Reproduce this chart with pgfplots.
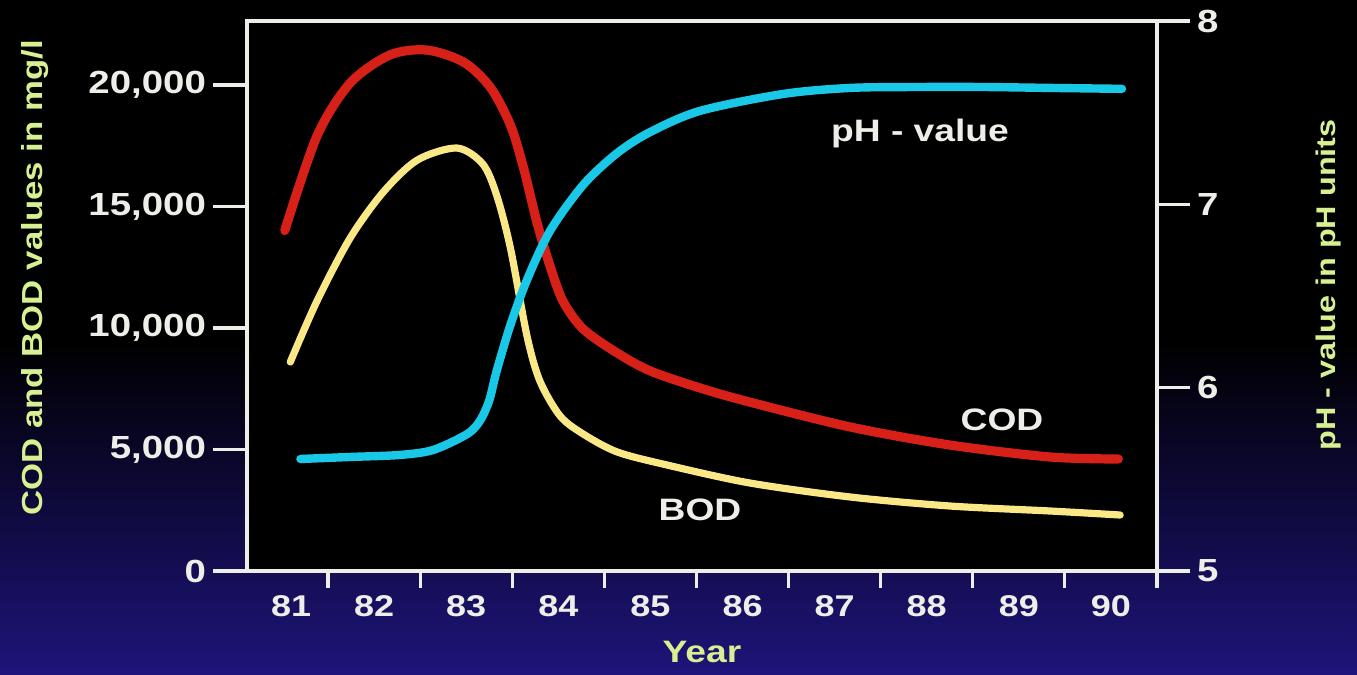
\documentclass[border=0pt]{standalone}
\usepackage{fontspec}
\setmainfont{Liberation Sans}[FakeStretch=1.2]
\usepackage{pgfplots}
\pgfplotsset{compat=1.18}
\definecolor{codred}{RGB}{215,32,24}
\definecolor{bodyel}{RGB}{250,232,135}
\definecolor{phcyan}{RGB}{25,200,230}
\definecolor{labgreen}{RGB}{215,240,145}
\definecolor{tickwhite}{RGB}{238,238,232}
\definecolor{navyb}{RGB}{30,20,122}
\pgfplotstableread{
x y
81.03 14011
81.38 17900
81.74 20081
82.17 21233
82.57 21439
82.97 20945
83.26 19917
83.48 18353
83.62 16625
83.77 14320
83.91 12551
84.05 11111
84.27 9958
84.64 8971
85.00 8230
85.54 7530
86.08 6950
87.17 5926
88.25 5185
89.34 4691
90.08 4609
}\codtab
\pgfplotstableread{
x y
81.09 8600
81.38 11111
81.74 13703
82.10 15596
82.47 16913
82.90 17406
83.18 16748
83.33 15472
83.48 13291
83.66 9670
83.80 7819
84.02 6378
84.27 5638
84.64 4897
85.18 4362
86.08 3621
87.17 3045
88.25 2675
89.34 2469
90.10 2304
}\bodtab
\pgfplotstableread{
x y
81.20 5.611
81.74 5.622
82.28 5.633
82.64 5.660
83.01 5.747
83.15 5.820
83.25 5.930
83.33 6.090
83.48 6.342
83.66 6.588
83.91 6.855
84.27 7.106
84.64 7.280
85.00 7.395
85.54 7.510
86.44 7.602
87.17 7.635
87.90 7.640
88.61 7.640
89.34 7.635
90.12 7.630
}\phtab
\begin{document}
\begin{tikzpicture}
\fill[black] (-123.5pt,-52pt) rectangle (555pt,285.5pt);
\shade[top color=black, bottom color=navyb] (-123.5pt,-52pt) rectangle (555pt,115pt);
\begin{axis}[
  at={(0pt,0pt)}, anchor=south west,
  scale only axis, width=455pt, height=275pt,
  xmin=80.62, xmax=90.5, ymin=0, ymax=22634,
  scaled y ticks=false,
  axis background/.style={fill=black},
  axis line style={tickwhite, line width=1.7pt},
  every tick/.style={tickwhite, line width=1.6pt},
  tick align=outside,
  xtick pos=left, ytick pos=left,
  major tick length=17pt, minor tick length=8.5pt,
  ytick={0,5000,10000,15000,20000},
  yticklabels={0,{5,000},{10,000},{15,000},{20,000}},
  xtick={81.1,82,83,84,85,86,87,88,89,90},
  xticklabels={81,82,83,84,85,86,87,88,89,90},
  major x tick style={draw=none},
  minor xtick={81.5,82.5,83.5,84.5,85.5,86.5,87.5,88.5,89.5,90.5},
  extra x ticks={80.62}, extra x tick labels={},
  extra x tick style={draw=tickwhite},
  /pgf/number format/assume math mode=true,
  xticklabel style={font=\fontsize{15}{18}\selectfont\bfseries, text=tickwhite, yshift=8.5pt},
  yticklabel style={font=\fontsize{16}{19}\selectfont\bfseries, text=tickwhite},
  clip=false,
]
\addplot[codred, line width=4.6pt, line cap=round, smooth, tension=0.5] table[x=x,y=y]{\codtab};
\addplot[bodyel, line width=3.6pt, line cap=round, smooth, tension=0.5] table[x=x,y=y]{\bodtab};
\end{axis}
\begin{axis}[
  at={(0pt,0pt)}, anchor=south west,
  scale only axis, width=455pt, height=275pt,
  xmin=80.62, xmax=90.5, ymin=5, ymax=8,
  axis x line=none, axis y line*=right,
  axis line style={tickwhite, line width=1.7pt},
  every tick/.style={tickwhite, line width=1.6pt},
  tick align=outside, major tick length=16.5pt,
  ytick={5,6,7,8},
  /pgf/number format/assume math mode=true,
  tick label style={font=\fontsize{16}{19}\selectfont\bfseries, text=tickwhite},
  clip=false,
]
\addplot[phcyan, line width=4.2pt, line cap=round, smooth, tension=0.5] table[x=x,y=y]{\phtab};
\end{axis}
\node[rotate=90, text=labgreen, font=\fontsize{14.5}{17}\selectfont\bfseries] at (-106pt,146.5pt) {COD and BOD values in mg/l};
\node[rotate=90, text=labgreen, font=\fontsize{13.5}{16}\selectfont\bfseries] at (541pt,143pt) {pH - value in pH units};
\node[text=labgreen, font=\fontsize{15.5}{18}\selectfont\bfseries] at (227.5pt,-40.5pt) {Year};
\node[text=tickwhite, font=\fontsize{15.5}{18}\selectfont\bfseries] at (336.5pt,219pt) {pH - value};
\node[text=tickwhite, font=\fontsize{15.5}{18}\selectfont\bfseries] at (377.5pt,75.5pt) {COD};
\node[text=tickwhite, font=\fontsize{15.5}{18}\selectfont\bfseries] at (226.5pt,30.5pt) {BOD};
\pgfresetboundingbox
\path[use as bounding box] (-123.5pt,-52pt) rectangle (555pt,285.5pt);
\end{tikzpicture}
\end{document}
